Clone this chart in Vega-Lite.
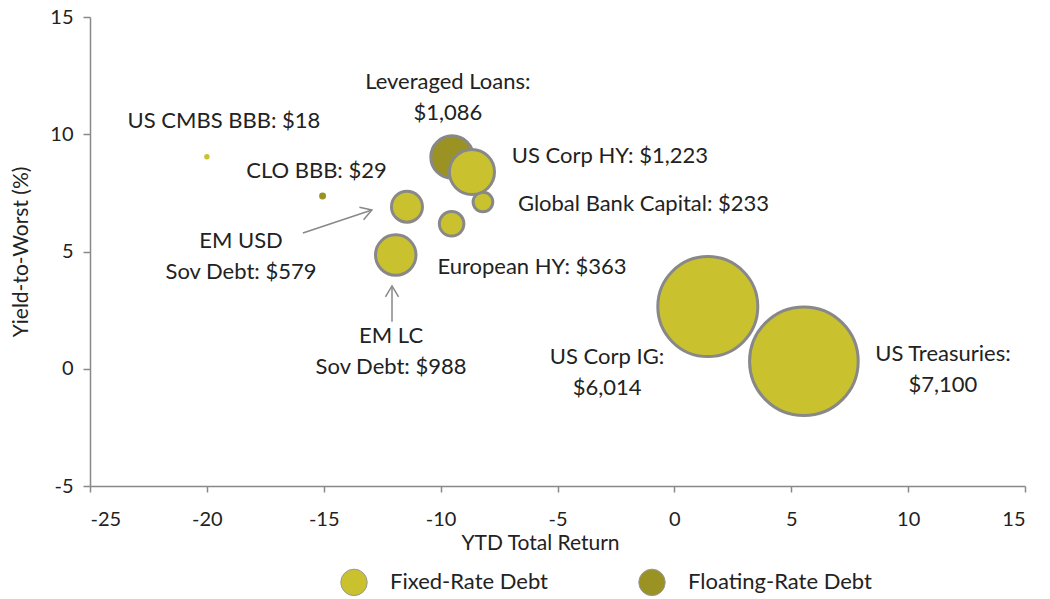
{
  "$schema": "https://vega.github.io/schema/vega-lite/v6.json",
  "width": 935,
  "height": 469,
  "autosize": {"type": "none"},
  "padding": {"left": 90, "top": 17, "right": 25, "bottom": 113},
  "background": "white",
  "config": {"view": {"stroke": null}, "font": "Lato"},
  "datasets": {
    "bubbles": [
      {"name": "US CMBS BBB", "ret": -20.0, "ytw": 9.04, "amount": 18, "type": "Fixed-Rate Debt"},
      {"name": "CLO BBB", "ret": -15.05, "ytw": 7.37, "amount": 29, "type": "Floating-Rate Debt"},
      {"name": "EM USD Sov Debt", "ret": -11.44, "ytw": 6.91, "amount": 579, "type": "Fixed-Rate Debt"},
      {"name": "EM LC Sov Debt", "ret": -11.92, "ytw": 4.85, "amount": 988, "type": "Fixed-Rate Debt"},
      {"name": "European HY", "ret": -9.53, "ytw": 6.18, "amount": 363, "type": "Fixed-Rate Debt"},
      {"name": "Leveraged Loans", "ret": -9.51, "ytw": 9.03, "amount": 1086, "type": "Floating-Rate Debt"},
      {"name": "Global Bank Capital", "ret": -8.19, "ytw": 7.11, "amount": 233, "type": "Fixed-Rate Debt"},
      {"name": "US Corp HY", "ret": -8.66, "ytw": 8.39, "amount": 1223, "type": "Fixed-Rate Debt"},
      {"name": "US Corp IG", "ret": 1.43, "ytw": 2.65, "amount": 6014, "type": "Fixed-Rate Debt"},
      {"name": "US Treasuries", "ret": 5.54, "ytw": 0.32, "amount": 7100, "type": "Fixed-Rate Debt"}
    ],
    "labels": [
      {"text": "US CMBS BBB: $18", "lx": -19.27, "ly": 10.55},
      {"text": "Leveraged Loans:\n$1,086", "lx": -9.69, "ly": 12.23},
      {"text": "US Corp HY: $1,223", "lx": -2.76, "ly": 9.07},
      {"text": "CLO BBB: $29", "lx": -15.31, "ly": 8.43},
      {"text": "Global Bank Capital: $233", "lx": -1.32, "ly": 7.03},
      {"text": "EM USD\nSov Debt: $579", "lx": -18.54, "ly": 5.45},
      {"text": "European HY: $363", "lx": -6.09, "ly": 4.34},
      {"text": "EM LC\nSov Debt: $988", "lx": -12.12, "ly": 1.40},
      {"text": "US Corp IG:\n$6,014", "lx": -2.88, "ly": 0.50},
      {"text": "US Treasuries:\n$7,100", "lx": 11.49, "ly": 0.63}
    ],
    "arrows": [
      {"id": "usd", "x1": -15.89, "y1": 5.79, "x2": -12.94, "y2": 6.77},
      {"id": "lc", "x1": -12.08, "y1": 2.0, "x2": -12.08, "y2": 3.53}
    ]
  },
  "layer": [
    {
      "data": {"name": "arrows"},
      "mark": {"type": "rule", "color": "#888888", "strokeWidth": 1.5},
      "encoding": {
        "x": {"field": "x1", "type": "quantitative"},
        "y": {"field": "y1", "type": "quantitative"},
        "x2": {"field": "x2"},
        "y2": {"field": "y2"}
      }
    },
    {
      "data": {"name": "arrows"},
      "transform": [{"filter": "datum.id === 'usd'"}],
      "mark": {"type": "point", "shape": "M-0.6,1L0,0L0.6,1", "filled": false, "stroke": "#888888", "strokeWidth": 1.5, "size": 480, "angle": 71.6, "opacity": 1},
      "encoding": {
        "x": {"field": "x2", "type": "quantitative"},
        "y": {"field": "y2", "type": "quantitative"}
      }
    },
    {
      "data": {"name": "arrows"},
      "transform": [{"filter": "datum.id === 'lc'"}],
      "mark": {"type": "point", "shape": "M-0.6,1L0,0L0.6,1", "filled": false, "stroke": "#888888", "strokeWidth": 1.5, "size": 480, "angle": 0, "opacity": 1},
      "encoding": {
        "x": {"field": "x2", "type": "quantitative"},
        "y": {"field": "y2", "type": "quantitative"}
      }
    },
    {
      "data": {"name": "bubbles"},
      "mark": {"type": "circle", "opacity": 1, "stroke": "#888888"},
      "encoding": {
        "x": {
          "field": "ret", "type": "quantitative",
          "scale": {"domain": [-25, 15], "nice": false, "zero": false},
          "axis": {
            "values": [-25, -20, -15, -10, -5, 0, 5, 10, 15],
            "labelExpr": "replace(datum.label, '−', '-')",
            "grid": false, "domainColor": "#888888", "tickColor": "#888888",
            "domainWidth": 1.5, "tickWidth": 1.5, "tickSize": 6,
            "labelFontSize": 20, "labelColor": "#222222", "labelPadding": 17,
            "title": "YTD Total Return", "titleFontSize": 21, "titleFontWeight": "normal",
            "titleColor": "#222222", "titlePadding": 3, "titleX": 450
          }
        },
        "y": {
          "field": "ytw", "type": "quantitative",
          "scale": {"domain": [-5, 15], "nice": false, "zero": false},
          "axis": {
            "values": [-5, 0, 5, 10, 15],
            "labelExpr": "replace(datum.label, '−', '-')",
            "grid": false, "domainColor": "#888888", "tickColor": "#888888",
            "domainWidth": 1.5, "tickWidth": 1.5, "tickSize": 7,
            "labelFontSize": 20, "labelColor": "#222222", "labelPadding": 10,
            "title": "Yield-to-Worst (%)", "titleFontSize": 21, "titleFontWeight": "normal",
            "titleColor": "#222222", "titlePadding": 18
          }
        },
        "size": {
          "field": "amount", "type": "quantitative",
          "scale": {"domain": [0, 7100], "range": [0, 11805], "zero": true},
          "legend": null
        },
        "color": {
          "field": "type", "type": "nominal",
          "scale": {"domain": ["Fixed-Rate Debt", "Floating-Rate Debt"], "range": ["#C9C22E", "#9A9223"]},
          "legend": {
            "title": null, "orient": "none", "direction": "horizontal",
            "legendX": 250, "legendY": 551, "padding": 0,
            "symbolType": "circle", "symbolSize": 700,
            "symbolStrokeColor": "#999999", "symbolStrokeWidth": 1,
            "labelFontSize": 22, "labelColor": "#222222", "labelOffset": 22,
            "labelLimit": 400, "columnPadding": 88
          }
        },
        "strokeWidth": {"condition": {"test": "datum.amount < 100", "value": 0}, "value": 3},
        "order": {"field": "amount", "type": "quantitative", "sort": "ascending"}
      }
    },
    {
      "data": {"name": "labels"},
      "mark": {"type": "text", "align": "center", "baseline": "middle", "fontSize": 22, "color": "#222222", "lineBreak": "\n", "lineHeight": 31},
      "encoding": {
        "x": {"field": "lx", "type": "quantitative"},
        "y": {"field": "ly", "type": "quantitative"},
        "text": {"field": "text"}
      }
    }
  ]
}
